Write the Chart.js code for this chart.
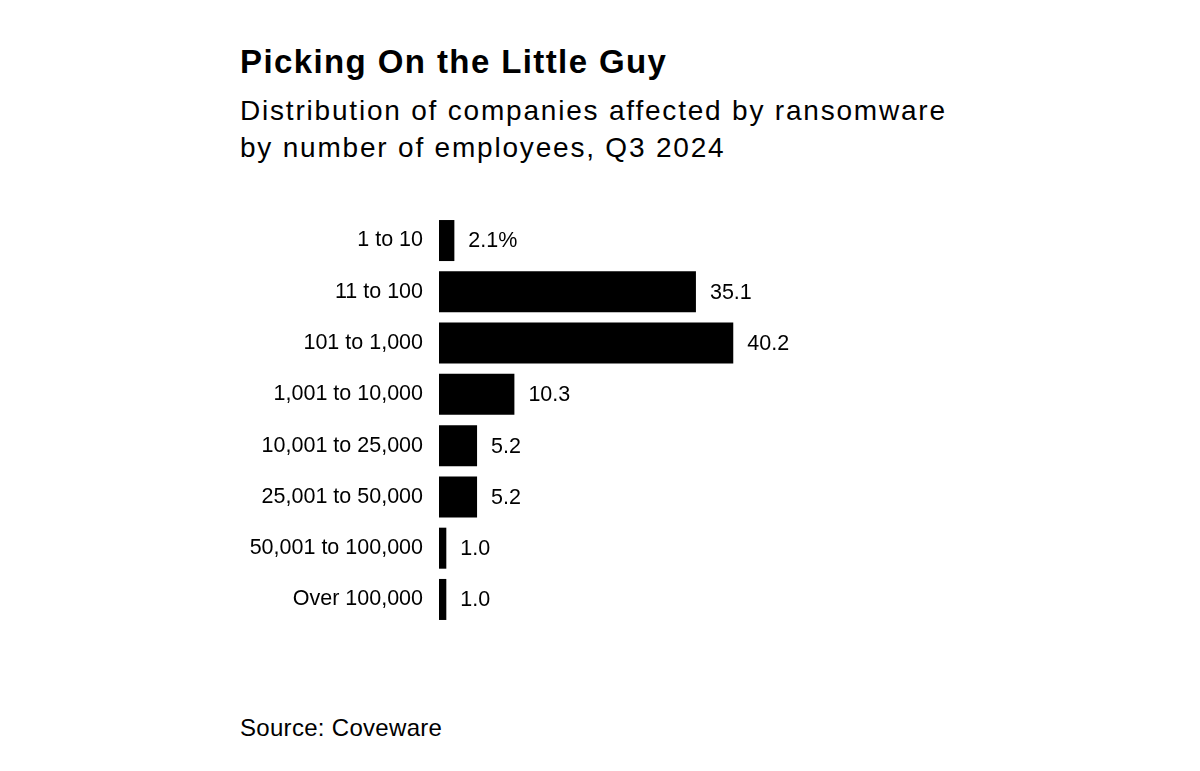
<!DOCTYPE html>
<html lang="en">
<head>
  <meta charset="UTF-8"/>
  <title>Picking On the Little Guy</title>
  <style>
    * { box-sizing: border-box; }
    body {
      margin: 0;
      width: 1200px; height: 771px;
      background: #fff; color: #000;
      font-family: "Liberation Sans", Arial, sans-serif;
      position: relative; overflow: hidden;
    }
    .title {
      position: absolute; left: 240px; top: 43px;
      font-size: 33px; font-weight: bold; letter-spacing: 1.4px;
      line-height: 38px; margin: 0;
    }
    .subtitle {
      position: absolute; left: 240px; top: 92px;
      font-size: 28px; letter-spacing: 1.8px;
      line-height: 37px;
    }
    .source {
      position: absolute; left: 240px; top: 714px;
      font-size: 24px; letter-spacing: 0.3px; line-height: 28px;
    }
    .chart-box {
      position: absolute; left: 200px; top: 186px;
      width: 700px; height: 468px;
    }
  </style>
  <script src="https://cdn.jsdelivr.net/npm/chart.js"></script>
</head>
<body>
  <h1 class="title">Picking On the Little Guy</h1>
  <div class="subtitle">Distribution of companies affected by ransomware<br>by number of employees, Q3 2024</div>
  <div class="chart-box"><canvas id="chart"></canvas></div>
  <div class="source">Source: Coveware</div>

  <script>
    // data
    const categories = ['1 to 10','11 to 100','101 to 1,000','1,001 to 10,000',
                        '10,001 to 25,000','25,001 to 50,000','50,001 to 100,000','Over 100,000'];
    const shares = [2.1, 35.1, 40.2, 10.3, 5.2, 5.2, 1.0, 1.0];
    const valueLabels = ['2.1%','35.1','40.2','10.3','5.2','5.2','1.0','1.0'];

    const labelFont = { family:'"Liberation Sans", Arial, sans-serif', size:21.5 };

    // value labels at the end of each bar
    const barValues = {
      id:'barValues',
      afterDatasetsDraw(chart) {
        const ctx = chart.ctx;
        const meta = chart.getDatasetMeta(0);
        ctx.save();
        ctx.fillStyle = '#000';
        ctx.font = labelFont.size + 'px ' + labelFont.family;
        ctx.textAlign = 'left';
        ctx.textBaseline = 'middle';
        meta.data.forEach((bar, i) => {
          ctx.fillText(valueLabels[i], bar.x + 14, bar.y + 1);
        });
        ctx.restore();
      }
    };

    new Chart(document.getElementById('chart'), {
      type:'bar',
      data:{
        labels:categories,
        datasets:[{ data:shares, backgroundColor:'#000', borderWidth:0,
                    categoryPercentage:1, barPercentage:0.8 }]
      },
      options:{
        indexAxis:'y',
        animation:false, responsive:true, maintainAspectRatio:false,
        layout:{ padding:{ top:0, bottom:0, right:95, left:0 } },
        scales:{
          x:{ display:false, min:0, max:50 },
          y:{
            grid:{ display:false, drawTicks:false },
            border:{ display:false },
            ticks:{ color:'#000', font:labelFont, padding:16 },
            afterFit(scale) { scale.width = 239; }
          }
        },
        plugins:{ legend:{ display:false }, tooltip:{ enabled:false } }
      },
      plugins:[barValues]
    });
  </script>
</body>
</html>
